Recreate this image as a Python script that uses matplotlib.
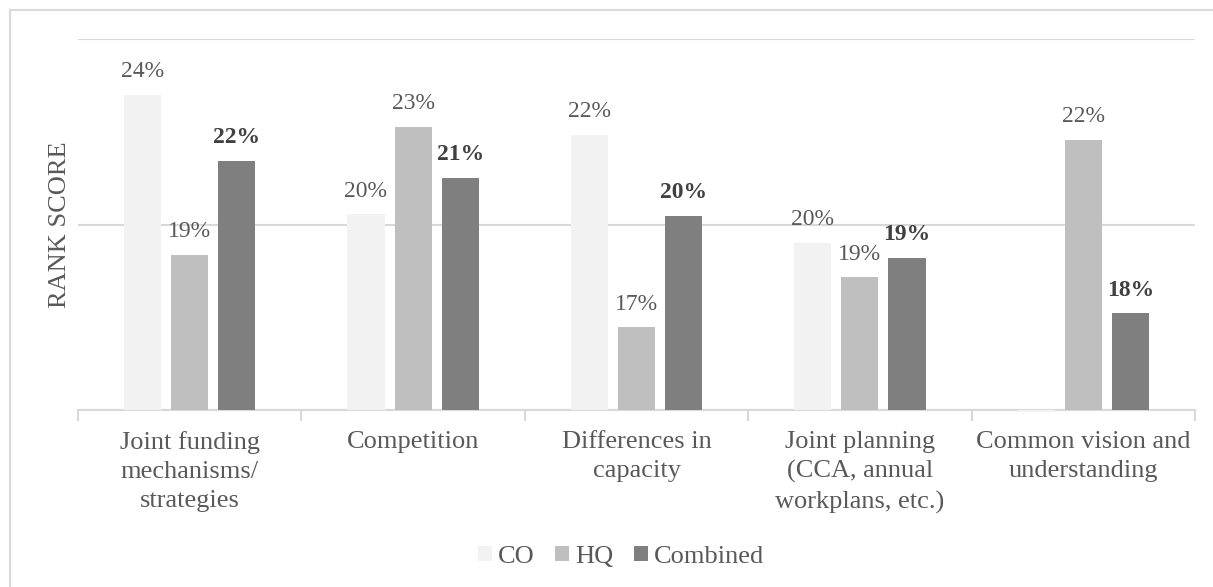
import matplotlib
matplotlib.use("Agg")
import matplotlib.pyplot as plt
import numpy as np
from matplotlib.patches import Rectangle

categories = ["Joint funding\nmechanisms/\nstrategies", "Competition",
              "Differences in\ncapacity", "Joint planning\n(CCA, annual\nworkplans, etc.)",
              "Common vision and\nunderstanding"]
series_names = ["CO", "HQ", "Combined"]
co = [0.235, 0.2027, 0.2242, 0.1951, 0.1495]
hq = [0.1919, 0.2263, 0.1723, 0.1858, 0.2228]
combined = [0.2172, 0.2126, 0.2024, 0.1911, 0.1761]
y_min, y_max, y_grid = 0.15, 0.25, [0.15, 0.20, 0.25]

colors = ["#f2f2f2", "#bfbfbf", "#7f7f7f"]
txt = "#595959"
plt.rcParams['font.family'] = ['Liberation Serif', 'DejaVu Serif']

fig = plt.figure(figsize=(12.13, 5.87), dpi=100)
ax = fig.add_axes([78/1213, 1-410/587, (1195-78)/1213, (410-39)/587])

x = np.arange(len(categories))
w = 0.166
off = 0.211
for i, (vals, c, name) in enumerate(zip([co, hq, combined], colors, series_names)):
    pos = x + (i-1)*off
    ax.bar(pos, np.array(vals)-y_min, width=w, bottom=y_min, color=c, label=name,
           zorder=3, clip_on=False)
    for p, v in zip(pos, vals):
        if v < y_min:
            continue
        bold = (name == "Combined")
        ax.annotate(f"{v:.0%}", (p, v), xytext=(0, 9), textcoords="offset points",
                    ha="center", va="bottom", fontsize=17,
                    color="#404040" if bold else txt,
                    fontweight="bold" if bold else "normal")

ax.set_xlim(-0.5, len(categories)-0.5)
ax.set_ylim(y_min, y_max)
ax.set_yticks(y_grid)
ax.set_yticklabels([])
ax.tick_params(axis='y', length=0)
ax.grid(axis='y', color="#d9d9d9", linewidth=1.5, zorder=0)
for s in ["top", "right", "left"]:
    ax.spines[s].set_visible(False)
ax.spines["bottom"].set_color("#d9d9d9")
ax.spines["bottom"].set_linewidth(1.5)
ax.spines["bottom"].set_zorder(2)
ax.set_xticks(x)
ax.set_xticklabels(categories, fontsize=19, color=txt, linespacing=1.42)
ax.tick_params(axis='x', which='major', length=0, pad=15)
ax.set_xticks(np.arange(-0.5, len(categories)), minor=True)
ax.tick_params(axis='x', which='minor', length=8, width=1.5, color="#d9d9d9")
ax.patch.set_alpha(0)

fig.text(60/1213, 1-225/587, "RANK SCORE", rotation=90, ha="center", va="center",
         fontsize=19, color=txt)

handles, labels = ax.get_legend_handles_labels()
fig.legend(handles, labels, loc="center", bbox_to_anchor=(621/1213, 1-557/587), ncol=3,
           frameon=False, fontsize=19, labelcolor=txt, handlelength=0.53, handleheight=0.53,
           handletextpad=0.2, columnspacing=0.8)

fig.patches.append(Rectangle((10/1213, -0.1), 1.2, 1-10/587+0.1, transform=fig.transFigure,
                             fill=False, edgecolor="#d9d9d9", linewidth=1.5))
fig.savefig("out.png", dpi=100)
